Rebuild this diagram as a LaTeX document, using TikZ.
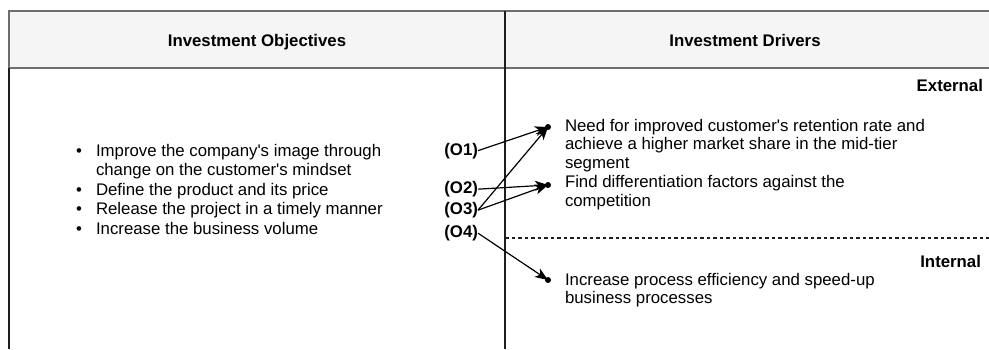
\documentclass[tikz,border=0pt]{standalone}
\usepackage{fontspec}
\setmainfont{Liberation Sans}
\usetikzlibrary{arrows.meta}
\definecolor{hdrfill}{HTML}{F5F5F5}
\definecolor{hdrline}{HTML}{6E6E6E}
\definecolor{rule}{HTML}{1E1E1E}
\newcommand{\apos}{\textquotesingle}
\begin{document}
\begin{tikzpicture}[x=1pt,y=-1pt,
  every node/.style={inner sep=0pt, outer sep=0pt},
  txt/.style={font=\fontsize{16.8}{19.5}\selectfont, anchor=base west},
  bold/.style={font=\fontsize{16.8}{19.5}\selectfont\bfseries},
  objlabel/.style={bold, anchor=base east},
  bulletmark/.style={font=\fontsize{16.8}{19.5}\selectfont, anchor=base},
  header/.style={bold, anchor=base},
  frameline/.style={draw=rule, line width=1.3pt},
  link/.style={draw=black, line width=1.2pt, -{Stealth[length=13pt,width=10pt,inset=3.5pt]}},
  linkdot/.style={fill=black, draw=none},
  split/.style={draw=rule, line width=1.1pt, dash pattern=on 3.5pt off 3pt}]
\useasboundingbox (0,0) rectangle (989,349);

% header band and column frame
\fill[hdrfill] (9,11) rectangle (990,68);
\draw[hdrline, line width=1.2pt] (990,11) -- (9,11) -- (9,68) -- (990,68);
\draw[frameline] (9,68) -- (9,349);
\draw[frameline] (505,11) -- (505,349);

\node[header] (hobj) at (257,46) {Investment Objectives};
\node[header] (hdrv) at (745,46) {Investment Drivers};

% objectives list
\node[bulletmark] (b1) at (79,156) {\textbullet};
\node[txt] (l1a) at (96,156) {Improve the company\apos s image through};
\node[txt] (l1b) at (96,175.5) {change on the customer\apos s mindset};
\node[bulletmark] (b2) at (79,195) {\textbullet};
\node[txt] (l2) at (96,195) {Define the product and its price};
\node[bulletmark] (b3) at (79,214.5) {\textbullet};
\node[txt] (l3) at (96,214.5) {Release the project in a timely manner};
\node[bulletmark] (b4) at (79,234) {\textbullet};
\node[txt] (l4) at (96,234) {Increase the business volume};

% objective references
\node[objlabel] (o1) at (478,155) {(O1)};
\node[objlabel] (o2) at (478,193.5) {(O2)};
\node[objlabel] (o3) at (478,214.5) {(O3)};
\node[objlabel] (o4) at (478,237.5) {(O4)};

% drivers
\node[bold, anchor=base east] (ext) at (983,91) {External};
\node[bold, anchor=base east] (int) at (981,267) {Internal};
\draw[split] (505,238) -- (989,238);

\node[txt] (d1a) at (565,131) {Need for improved customer\apos s retention rate and};
\node[txt] (d1b) at (565,149.5) {achieve a higher market share in the mid-tier};
\node[txt] (d1c) at (565,168) {segment};
\node[txt] (d2a) at (565,187.5) {Find differentiation factors against the};
\node[txt] (d2b) at (565,206.5) {competition};
\node[txt] (d3a) at (565,285) {Increase process efficiency and speed-up};
\node[txt] (d3b) at (565,303.5) {business processes};

\coordinate (t1) at (548,127);
\coordinate (t2) at (548,185);
\coordinate (t3) at (548,280);

% links from objectives to drivers
\draw[link] (o1.east) -- (t1);
\draw[link] (o2.east) -- (t2);
\draw[link] (o3.east) -- (t1);
\draw[link] (o3.east) -- (t2);
\draw[link] (o4.east) -- (t3);
\foreach \t in {t1,t2,t3} \fill[linkdot] (\t) circle (3pt);
\end{tikzpicture}
\end{document}
